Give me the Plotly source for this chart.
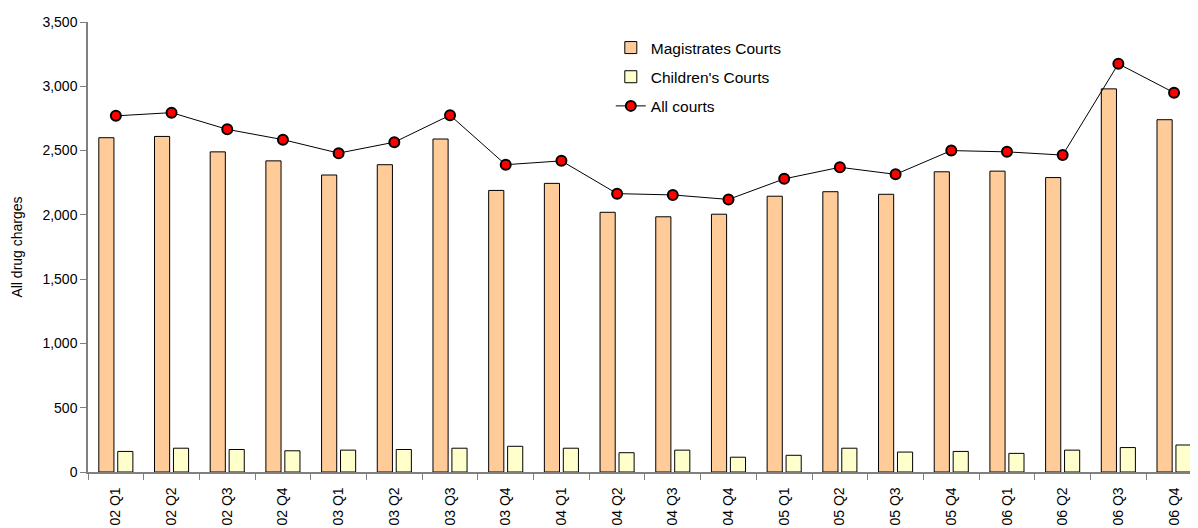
"""Drug charges per quarter by court type: grouped bars plus an all-courts line."""

import plotly.graph_objects as go

QUARTERS = [
    "02 Q1", "02 Q2", "02 Q3", "02 Q4",
    "03 Q1", "03 Q2", "03 Q3", "03 Q4",
    "04 Q1", "04 Q2", "04 Q3", "04 Q4",
    "05 Q1", "05 Q2", "05 Q3", "05 Q4",
    "06 Q1", "06 Q2", "06 Q3", "06 Q4",
]
MAGISTRATES = [
    2600, 2610, 2490, 2420, 2310, 2390, 2590, 2190, 2245, 2020,
    1985, 2005, 2145, 2180, 2160, 2335, 2340, 2290, 2980, 2740,
]
CHILDRENS = [
    160, 185, 175, 165, 170, 175, 185, 200, 185, 150,
    170, 115, 130, 185, 155, 160, 145, 170, 190, 210,
]
ALL_COURTS = [
    2770, 2795, 2665, 2585, 2480, 2565, 2775, 2390, 2420, 2165,
    2155, 2120, 2280, 2370, 2315, 2500, 2490, 2465, 3175, 2950,
]

FONT = "Liberation Sans, Arial, sans-serif"
AXIS_GREY = "#808080"


def build_figure():
    fig = go.Figure()

    fig.add_bar(
        x=QUARTERS,
        y=MAGISTRATES,
        name="Magistrates Courts",
        marker={"color": "#FFCC99", "line": {"color": "#000000", "width": 1}},
        legendgroup="mag",
    )
    fig.add_bar(
        x=QUARTERS,
        y=CHILDRENS,
        name="Children's Courts",
        marker={"color": "#FFFFCC", "line": {"color": "#000000", "width": 1}},
        legendgroup="chi",
    )
    fig.add_scatter(
        x=QUARTERS,
        y=ALL_COURTS,
        name="All courts",
        mode="lines+markers",
        line={"color": "#000000", "width": 1},
        marker={
            "color": "#FF0000",
            "size": 10,
            "line": {"color": "#000000", "width": 2},
        },
        legendgroup="all",
    )

    _style_figure(fig)
    return fig


def _style_figure(fig):
    # the page body adds an 8px margin, so the figure is 8px smaller each way
    fig.update_layout(
        width=1190,
        height=520,
        margin={"l": 80, "r": 0, "t": 14, "b": 56, "autoexpand": False},
        paper_bgcolor="white",
        plot_bgcolor="white",
        font={"family": FONT, "size": 14, "color": "#000000"},
        barmode="group",
        bargap=0.32,
        bargroupgap=0.2,
        legend={
            "x": 0.471,
            "y": 0.98,
            "xanchor": "left",
            "yanchor": "top",
            "bgcolor": "rgba(0,0,0,0)",
            "font": {"family": FONT, "size": 15.5, "color": "#000000"},
            "traceorder": "grouped",
            "tracegroupgap": 6,
        },
    )

    fig.update_xaxes(
        type="category",
        range=[-0.5, 19.43],
        tickangle=-90,
        tickson="boundaries",
        ticks="outside",
        ticklen=6,
        tickcolor=AXIS_GREY,
        ticklabelstandoff=8,
        showline=True,
        linecolor=AXIS_GREY,
        linewidth=1.5,
        showgrid=False,
        automargin=False,
        tickfont={"family": FONT, "size": 14, "color": "#000000"},
    )
    fig.update_yaxes(
        range=[0, 3500],
        dtick=500,
        tickformat=",",
        ticks="outside",
        ticklen=6,
        tickcolor=AXIS_GREY,
        showline=True,
        linecolor=AXIS_GREY,
        linewidth=1.5,
        showgrid=False,
        zeroline=False,
        automargin=False,
        tickfont={"family": FONT, "size": 14, "color": "#000000"},
        title={
            "text": "All drug charges",
            "standoff": 17,
            "font": {"family": FONT, "size": 14, "color": "#000000"},
        },
    )


fig = build_figure()
fig.write_html("out.html")
